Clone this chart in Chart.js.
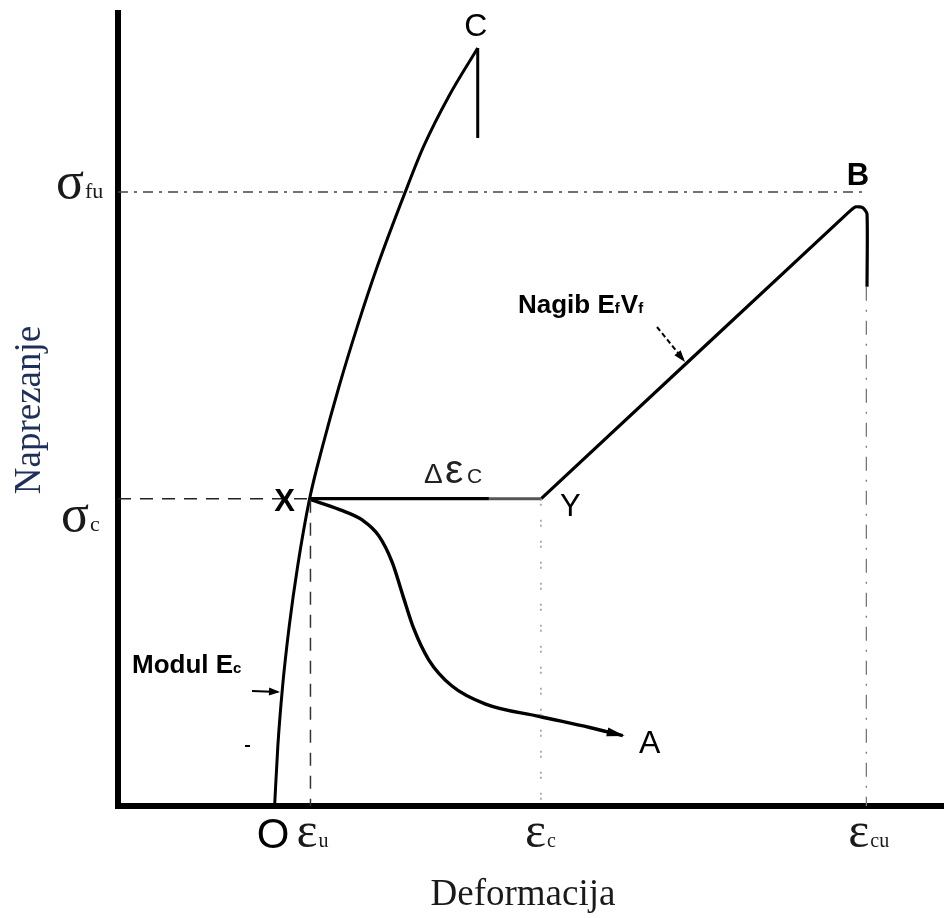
<!DOCTYPE html>
<html>
<head>
<meta charset="utf-8">
<script src="https://cdn.jsdelivr.net/npm/chart.js@4.4.1/dist/chart.umd.min.js"></script>
<style>
  html, body { margin: 0; padding: 0; background: #fff; }
  #wrap { width: 944px; height: 918px; position: relative; }
</style>
</head>
<body>
<div id="wrap"><canvas id="diagram"></canvas></div>
<script>
// Values, both axes in % of axis length
const strainMarks = [23.3, 51.2, 90.6];          // εu, εc, εcu
const strainSubs = ['u', 'c', 'cu'];
const stressMarks = [77.15, 38.6];               // σfu, σc
const stressSubs = ['fu', 'c'];
const originStrain = 18.9;

// matrix curve O - X - C
const curveOXC = [
    [18.96, 0], [19.35, 7.53], [19.93, 15.07], [20.73, 22.6], [21.75, 30.13],
    [23.2, 38.61], [24.77, 45.2], [26.77, 52.73], [28.98, 60.26], [31.4, 67.8],
    [34.71, 76.96], [37.0, 82.86], [40.04, 89.14], [43.55, 95.23]
];
const dropC = [[43.55, 95.23], [43.55, 83.93]];

// multiple cracking X - Y (right part printed lighter), then fibres Y - B
const plateauXY = [[23.2, 38.61], [44.9, 38.61]];
const plateauGrey = [[44.9, 38.61], [51.24, 38.61]];
const lineYB = [
    [51.24, 38.61], [88.37, 74.51], [89.34, 75.27], [90.19, 75.14], [90.68, 74.39], [90.68, 65.22]
];

// softening curve X - A
const curveXA = [
    [23.32, 38.48], [26.83, 37.23], [29.6, 35.9], [31.6, 33.9], [33.2, 30.6],
    [34.5, 26.4], [35.8, 22.3], [37.6, 18.4], [40.4, 15.1], [44.5, 12.8],
    [51.06, 11.24], [57.11, 9.86], [61.11, 8.85]
];

const SERIF = '"Liberation Serif", "DejaVu Serif", serif';
const SANS = '"Liberation Sans", Arial, sans-serif';

function pts(arr) {
    return arr.map(p => ({ x: p[0], y: p[1] }));
}

function line(data, opts) {
    return Object.assign({
        data: pts(data),
        showLine: true,
        pointRadius: 0,
        borderColor: '#000',
        borderWidth: 3,
        tension: 0,
        fill: false
    }, opts || {});
}

const guideFu = [[0, stressMarks[0]], [lineYB[4][0], stressMarks[0]]];
const guideC = [[0, stressMarks[1]], [curveXA[0][0], stressMarks[1]]];
const guideEu = [[strainMarks[0], curveXA[0][1]], [strainMarks[0], 0]];
const guideEc = [[strainMarks[1], stressMarks[1]], [strainMarks[1], 0]];
const guideEcu = [[strainMarks[2], lineYB[5][1]], [strainMarks[2], 0]];

function arrowHead(ctx, x0, y0, x1, y1, len, half) {
    const a = Math.atan2(y1 - y0, x1 - x0);
    ctx.save();
    ctx.translate(x1, y1);
    ctx.rotate(a);
    ctx.beginPath();
    ctx.moveTo(0, 0);
    ctx.lineTo(-len, -half);
    ctx.lineTo(-len, half);
    ctx.closePath();
    ctx.fill();
    ctx.restore();
}

// main letter with a small subscript behind it
function subText(ctx, main, sub, x, y, mainFont, subFont, color) {
    ctx.fillStyle = color;
    ctx.textAlign = 'left';
    ctx.font = mainFont;
    const w1 = ctx.measureText(main).width;
    ctx.fillText(main, x, y);
    ctx.font = subFont;
    ctx.fillText(sub, x + w1 + 1, y);
}

const annotations = {
    id: 'annotations',
    beforeDatasetsDraw(chart) {
        const { ctx, chartArea } = chart;
        ctx.save();
        ctx.strokeStyle = '#000';
        ctx.lineWidth = 6;
        ctx.beginPath();
        ctx.moveTo(chartArea.left, chartArea.top);
        ctx.lineTo(chartArea.left, chartArea.bottom);
        ctx.moveTo(chartArea.left - 3, chartArea.bottom);
        ctx.lineTo(chartArea.right, chartArea.bottom);
        ctx.stroke();
        ctx.restore();
    },
    afterDraw(chart) {
        const { ctx, chartArea } = chart;
        const xs = chart.scales.x, ys = chart.scales.y;
        const px = v => xs.getPixelForValue(v);
        const py = v => ys.getPixelForValue(v);
        ctx.save();
        ctx.textBaseline = 'alphabetic';

        // arrow at the end of X - A
        const n = curveXA.length;
        ctx.fillStyle = '#000';
        arrowHead(ctx, px(curveXA[n - 2][0]), py(curveXA[n - 2][1]),
            px(curveXA[n - 1][0]) + 2, py(curveXA[n - 1][1]) + 0.5, 18, 4.5);

        // small stray tick left of the E_c line
        ctx.fillRect(245, 745, 5, 2);

        // point letters
        ctx.fillStyle = '#000';
        ctx.textAlign = 'center';
        ctx.font = '32px ' + SANS;
        ctx.fillText('C', px(dropC[0][0]) - 2, py(dropC[0][1]) - 12);
        ctx.font = 'bold 31px ' + SANS;
        ctx.fillText('B', px(lineYB[2][0]) + 2, py(lineYB[2][1]) - 22);
        ctx.fillText('X', px(plateauXY[0][0]) - 25, py(plateauXY[0][1]) + 12);
        ctx.font = '31px ' + SANS;
        ctx.fillText('Y', px(plateauGrey[1][0]) + 29, py(plateauGrey[1][1]) + 17);
        ctx.font = '32px ' + SANS;
        ctx.fillText('A', px(curveXA[n - 1][0]) + 27, py(curveXA[n - 1][1]) + 17);

        // Δεc over the plateau
        const yd = py(plateauXY[0][1]) - 16;
        ctx.fillStyle = '#222';
        ctx.textAlign = 'left';
        ctx.font = '28px ' + SANS;
        ctx.fillText('Δ', 424, yd);
        ctx.font = '41px ' + SANS;
        ctx.fillText('ε', 445, yd);
        ctx.font = '21px ' + SANS;
        ctx.fillText('C', 467, yd);

        // slope labels
        ctx.fillStyle = '#000';
        ctx.font = 'bold 26px ' + SANS;
        ctx.fillText('Nagib E', 518, 313);
        let w = ctx.measureText('Nagib E').width;
        ctx.font = 'bold 15px ' + SANS;
        ctx.fillText('f', 518 + w, 313);
        const w2 = ctx.measureText('f').width;
        ctx.font = 'bold 26px ' + SANS;
        ctx.fillText('V', 518 + w + w2 + 1, 313);
        const w3 = ctx.measureText('V').width;
        ctx.font = 'bold 15px ' + SANS;
        ctx.fillText('f', 518 + w + w2 + w3 + 1, 313);

        ctx.font = 'bold 26px ' + SANS;
        ctx.fillText('Modul E', 132, 673);
        w = ctx.measureText('Modul E').width;
        ctx.font = 'bold 15px ' + SANS;
        ctx.fillText('c', 132 + w, 673);

        // leader arrows
        ctx.strokeStyle = '#000';
        ctx.lineWidth = 2;
        ctx.setLineDash([5, 3]);
        ctx.beginPath();
        ctx.moveTo(657, 327);
        ctx.lineTo(683, 359);
        ctx.stroke();
        ctx.setLineDash([]);
        arrowHead(ctx, 657, 327, 685, 362, 12, 4);
        ctx.beginPath();
        ctx.moveTo(252, 691);
        ctx.lineTo(278, 692);
        ctx.stroke();
        arrowHead(ctx, 252, 691, 280, 692, 11, 4);

        // stress marks on the y axis
        const sigFont = '52px ' + SERIF, subFont = '22px ' + SERIF;
        subText(ctx, 'σ', stressSubs[0], 56, py(stressMarks[0]) + 6, sigFont, subFont, '#1a1a1a');
        subText(ctx, 'σ', stressSubs[1], 61, py(stressMarks[1]) + 32, sigFont, subFont, '#1a1a1a');

        // strain marks on the x axis
        ctx.fillStyle = '#000';
        ctx.font = '42px ' + SANS;
        ctx.textAlign = 'center';
        ctx.fillText('O', px(originStrain) - 1, chartArea.bottom + 42);
        const epsFont = '50px ' + SERIF, epsSub = '20px ' + SERIF;
        subText(ctx, 'ε', strainSubs[0], px(strainMarks[0]) - 14, chartArea.bottom + 41, epsFont, epsSub, '#1a1a1a');
        subText(ctx, 'ε', strainSubs[1], px(strainMarks[1]) - 16, chartArea.bottom + 41, epsFont, epsSub, '#1a1a1a');
        subText(ctx, 'ε', strainSubs[2], px(strainMarks[2]) - 18, chartArea.bottom + 41, epsFont, epsSub, '#1a1a1a');

        // axis titles
        ctx.fillStyle = '#1a1a1a';
        ctx.textAlign = 'center';
        ctx.font = '37px ' + SERIF;
        ctx.fillText('Deformacija', 523, 905);
        ctx.save();
        ctx.translate(40, 410);
        ctx.rotate(-Math.PI / 2);
        ctx.fillStyle = '#1f2f5c';
        ctx.fillText('Naprezanje', 0, 0);
        ctx.restore();

        ctx.restore();
    }
};

const ctx = document.getElementById('diagram').getContext('2d');
const chart = new Chart(ctx, {
    type: 'scatter',
    data: {
        datasets: [
            line(guideFu, { borderColor: '#444', borderWidth: 1.5, borderDash: [10, 6, 3, 6] }),
            line(guideC, { borderColor: '#222', borderWidth: 1.6, borderDash: [13, 9] }),
            line(guideEu, { borderColor: '#333', borderWidth: 1.5, borderDash: [13, 10] }),
            line(guideEc, { borderColor: '#888', borderWidth: 1.3, borderDash: [2, 3, 2, 14] }),
            line(guideEcu, { borderColor: '#777', borderWidth: 1.3, borderDash: [14, 9, 2, 9] }),
            line(curveOXC, { cubicInterpolationMode: 'monotone', borderWidth: 3 }),
            line(dropC, { borderWidth: 3 }),
            line(plateauXY, { borderWidth: 3.2 }),
            line(plateauGrey, { borderWidth: 3, borderColor: '#555' }),
            line(lineYB, { borderWidth: 3.2, tension: 0.2 }),
            line(curveXA, { cubicInterpolationMode: 'monotone', borderWidth: 3.4 })
        ]
    },
    options: {
        responsive: true,
        maintainAspectRatio: false,
        animation: false,
        layout: { padding: { left: 118, top: 10, right: 0, bottom: 112 } },
        scales: {
            x: { type: 'linear', min: 0, max: 100, display: false },
            y: { type: 'linear', min: 0, max: 100, display: false }
        },
        plugins: { legend: { display: false }, tooltip: { enabled: false } }
    },
    plugins: [annotations]
});
</script>
</body>
</html>
